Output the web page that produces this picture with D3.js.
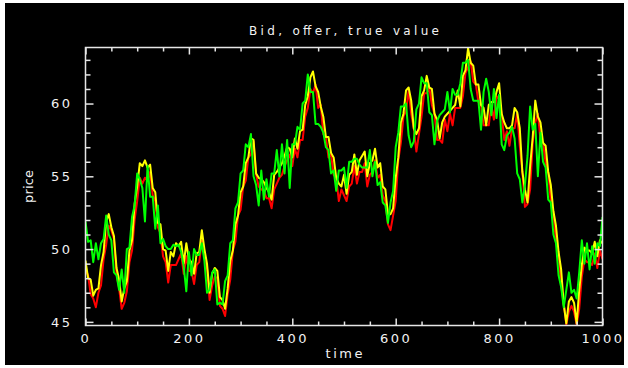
<!DOCTYPE html>
<html>
<head>
<meta charset="utf-8">
<script src="https://cdn.jsdelivr.net/npm/d3@7/dist/d3.min.js"></script>
<style>
  html, body { margin: 0; padding: 0; background: #ffffff; }
  svg { display: block; }
</style>
</head>
<body>
<svg id="chart" width="628" height="368"></svg>
<script>
// Labels
const chartTitle = "Bid, offer, true value";
const xLabel = "time";
const yLabel = "price";

// Tick values
const xMajorTicks = [0, 200, 400, 600, 800, 1000];
const xMinorTicks = [50, 100, 150, 250, 300, 350, 450, 500, 550, 650, 700, 750, 850, 900, 950];
const yMajorTicks = [45, 50, 55, 60];
const yMinorTicks = [46, 47, 48, 49, 51, 52, 53, 54, 56, 57, 58, 59, 61, 62, 63];

// Samples are taken every 5 time units, from t = 0 to t = 1000
const sampleStep = 5;

// Offer price
const offer = [
  49.2, 48.0, 47.9, 46.8, 47.2, 47.3, 48.9, 49.8, 51.9, 52.4,
  51.5, 50.9, 48.7, 47.9, 46.4, 47.3, 47.8, 49.9, 50.6, 53.1,
  54.3, 55.9, 55.7, 56.1, 55.6, 55.8, 54.2, 53.9, 51.8, 51.7,
  50.0, 49.9, 48.5, 49.8, 49.5, 50.4, 50.2, 50.5, 49.0, 50.4,
  49.3, 49.1, 48.3, 49.7, 49.8, 51.3, 50.0, 49.0, 47.0, 48.3,
  48.7, 48.5, 46.7, 46.5, 45.9, 47.3, 49.2, 49.9, 51.7, 52.3,
  53.9, 54.3, 55.9, 56.3, 57.6, 57.5, 55.2, 54.9, 54.8, 54.6,
  54.2, 53.9, 53.4, 55.1, 55.3, 55.6, 55.9, 56.4, 57.0, 56.9,
  56.3, 57.6, 56.9, 58.1, 58.2, 59.9, 60.5, 61.8, 62.2, 61.2,
  60.8, 59.8, 59.1, 57.7, 57.7, 56.6, 56.3, 54.9, 54.5, 54.3,
  55.1, 53.8, 55.1, 55.3, 56.5, 55.1, 56.1, 56.4, 56.7, 55.0,
  55.9, 56.1, 56.9, 55.6, 55.9, 54.3, 54.1, 52.4, 52.4, 52.8,
  54.9, 56.3, 58.7, 59.3, 60.9, 61.1, 60.2, 58.3, 57.9, 58.3,
  60.5, 60.9, 61.9, 61.1, 61.0, 59.3, 58.9, 57.6, 58.7, 59.1,
  59.3, 59.5, 59.7, 59.9, 60.9, 59.8, 61.9, 62.3, 63.8, 62.8,
  62.6, 61.3, 61.3, 59.9, 59.7, 58.5, 59.9, 60.1, 60.1, 60.8,
  61.4, 59.3, 58.7, 58.3, 58.3, 58.5, 59.7, 59.4, 58.3, 55.3,
  54.1, 53.2, 55.7, 57.7, 60.2, 59.1, 58.7, 57.3, 57.1, 55.3,
  54.4, 52.6, 51.6, 49.8, 48.6, 46.2, 44.9, 46.4, 46.7, 46.3,
  44.9, 47.2, 48.9, 50.1, 49.9, 49.9, 49.7, 50.5, 49.5, 50.6,
  50.4
];

// Bid price
const bid = [
  48.6, 48.2, 46.9, 46.6, 46.0, 47.0, 47.5, 49.3, 50.3, 51.6,
  51.3, 50.7, 48.3, 47.3, 45.9, 46.3, 47.1, 49.1, 49.9, 52.0,
  53.3, 54.9, 54.5, 54.9, 54.7, 55.3, 53.7, 53.3, 51.5, 51.1,
  49.5, 49.1, 47.7, 48.9, 48.9, 48.9, 49.3, 49.7, 48.3, 49.5,
  48.5, 48.5, 47.6, 48.9, 49.1, 50.6, 49.7, 48.7, 46.5, 47.5,
  48.1, 48.0, 46.1, 45.9, 45.4, 46.9, 47.9, 49.9, 50.5, 52.3,
  52.7, 54.3, 54.7, 56.3, 56.5, 57.4, 55.1, 54.3, 54.1, 54.0,
  53.5, 53.5, 52.8, 54.1, 54.5, 54.9, 55.1, 55.7, 56.1, 56.5,
  55.7, 56.9, 56.3, 57.5, 57.5, 59.1, 59.7, 61.0, 60.7, 61.3,
  59.7, 59.9, 57.9, 57.7, 56.3, 56.5, 55.1, 54.9, 53.3, 54.1,
  53.7, 53.3, 54.3, 54.5, 55.7, 54.5, 55.3, 55.3, 55.9, 54.3,
  55.1, 55.3, 56.1, 54.9, 55.1, 53.7, 53.3, 51.7, 51.3, 52.3,
  53.3, 56.1, 57.3, 59.1, 59.5, 60.9, 59.3, 58.3, 56.7, 57.9,
  59.1, 60.7, 60.7, 61.1, 59.9, 59.3, 57.5, 57.5, 57.3, 58.9,
  58.1, 59.3, 58.5, 59.7, 59.7, 59.7, 60.5, 62.1, 62.5, 62.9,
  61.5, 61.3, 60.1, 59.9, 58.5, 58.5, 58.5, 59.9, 58.9, 60.5,
  60.3, 59.3, 57.5, 58.1, 57.1, 58.3, 58.3, 59.3, 57.1, 55.3,
  52.9, 53.1, 54.1, 57.3, 58.7, 59.3, 57.5, 57.3, 55.9, 55.3,
  53.3, 52.5, 50.5, 49.7, 47.5, 46.3, 44.8, 45.7, 46.1, 45.7,
  44.8, 45.9, 48.1, 49.3, 49.1, 49.1, 48.9, 49.7, 48.7, 49.9,
  49.3
];

// True value
const trueValue = [
  51.9, 50.5, 50.6, 49.1, 50.4, 49.3, 50.4, 50.7, 52.3, 51.0,
  50.6, 48.4, 48.2, 47.2, 48.6, 47.0, 50.0, 50.1, 52.2, 53.0,
  55.2, 54.8, 54.2, 51.9, 55.7, 53.6, 53.6, 51.4, 53.0, 50.4,
  50.7, 50.2, 50.0, 50.0, 50.3, 50.2, 50.3, 49.8, 48.8, 47.1,
  49.8, 48.2, 50.0, 49.6, 49.6, 50.4, 49.2, 47.0, 47.2, 48.4,
  48.6, 46.2, 46.3, 46.2, 47.8, 48.2, 50.4, 50.6, 52.8, 53.2,
  55.2, 55.4, 57.2, 57.0, 57.9, 55.0, 54.4, 53.0, 55.4, 53.4,
  54.8, 53.6, 55.2, 55.2, 56.8, 55.0, 57.2, 55.2, 57.5, 54.2,
  57.2, 57.2, 58.4, 58.2, 60.0, 60.2, 62.0, 60.8, 60.8, 58.6,
  58.6, 58.4, 58.0, 57.0, 56.8, 55.2, 55.4, 54.0, 55.4, 55.4,
  55.6, 54.2, 56.0, 56.0, 56.2, 56.2, 55.8, 55.6, 55.6, 55.6,
  56.8, 55.0, 56.0, 54.4, 54.6, 53.2, 53.0, 51.8, 53.2, 54.0,
  57.0, 58.0, 59.8, 59.8, 60.0, 57.8, 57.0, 57.4, 59.6, 60.0,
  61.8, 61.4, 61.4, 59.4, 59.2, 57.2, 58.8, 59.2, 59.4, 59.6,
  60.8, 59.4, 61.0, 60.6, 60.6, 61.4, 62.8, 62.8, 63.0, 61.0,
  60.2, 60.2, 60.2, 58.2, 60.8, 61.7, 60.8, 59.2, 61.0, 59.0,
  60.6, 57.2, 56.8, 57.8, 58.0, 58.4, 57.6, 55.2, 54.8, 53.2,
  54.4, 56.4, 59.8, 58.2, 58.6, 55.0, 58.0, 56.0, 55.6, 53.4,
  53.2, 51.0, 50.4, 48.2, 47.4, 46.0, 47.2, 48.4, 47.0, 47.2,
  46.6, 48.4, 50.6, 49.0, 50.4, 48.6, 50.2, 49.0, 50.4, 50.2,
  52.2
];

const svg = d3.select("#chart");

// Black canvas with a thin light margin round it
svg.append("rect")
  .attr("x", 5).attr("y", 3)
  .attr("width", 619).attr("height", 362)
  .attr("fill", "#000000");

const plot = { left: 85.5, right: 602.5, top: 47.5, bottom: 325.5 };

const x = d3.scaleLinear().domain([0, 1000]).range([plot.left, plot.right]);
const y = d3.scaleLinear().domain([44.75, 63.85]).range([plot.bottom, plot.top]);

const axisColor = "#e6e6e6";
const textStyle = (sel, size) => sel
  .attr("fill", "#f2f2f2")
  .attr("font-family", "'DejaVu Sans', sans-serif")
  .attr("font-size", size || 12);

// Series: bid first, offer over it, true value on top
const series = [
  { values: bid, color: "#ff0000" },
  { values: offer, color: "#ffff00" },
  { values: trueValue, color: "#00ff00" }
];

const line = d3.line()
  .x((d, i) => x(i * sampleStep))
  .y(d => y(d));

svg.append("defs").append("clipPath").attr("id", "plot-clip")
  .append("rect")
  .attr("x", plot.left).attr("y", plot.top - 2)
  .attr("width", plot.right - plot.left).attr("height", plot.bottom - plot.top + 2);

svg.append("g").attr("clip-path", "url(#plot-clip)")
  .selectAll("path")
  .data(series)
  .join("path")
  .attr("d", d => line(d.values))
  .attr("fill", "none")
  .attr("stroke", d => d.color)
  .attr("stroke-width", 2)
  .attr("stroke-linejoin", "round");

// Axes with inward ticks on all four sides
function styleAxis(g) {
  g.select(".domain").remove();
  g.selectAll(".tick line").attr("stroke", axisColor).attr("stroke-width", 1.5);
  g.selectAll(".tick text").call(textStyle, 13).attr("letter-spacing", 2.5);
}

svg.append("g")
  .attr("transform", `translate(0,${plot.bottom})`)
  .call(d3.axisBottom(x).tickValues(xMajorTicks).tickSize(-7).tickPadding(8).tickFormat(d3.format("d")))
  .call(styleAxis);
svg.append("g")
  .attr("transform", `translate(0,${plot.bottom})`)
  .call(d3.axisBottom(x).tickValues(xMinorTicks).tickSize(-4).tickFormat(""))
  .call(styleAxis);
svg.append("g")
  .attr("transform", `translate(0,${plot.top})`)
  .call(d3.axisTop(x).tickValues(xMajorTicks).tickSize(-7).tickFormat(""))
  .call(styleAxis);
svg.append("g")
  .attr("transform", `translate(0,${plot.top})`)
  .call(d3.axisTop(x).tickValues(xMinorTicks).tickSize(-4).tickFormat(""))
  .call(styleAxis);

svg.append("g")
  .attr("transform", `translate(${plot.left},0)`)
  .call(d3.axisLeft(y).tickValues(yMajorTicks).tickSize(-8).tickPadding(13).tickFormat(d3.format("d")))
  .call(styleAxis);
svg.append("g")
  .attr("transform", `translate(${plot.left},0)`)
  .call(d3.axisLeft(y).tickValues(yMinorTicks).tickSize(-5).tickFormat(""))
  .call(styleAxis);
svg.append("g")
  .attr("transform", `translate(${plot.right},0)`)
  .call(d3.axisRight(y).tickValues(yMajorTicks).tickSize(-8).tickFormat(""))
  .call(styleAxis);
svg.append("g")
  .attr("transform", `translate(${plot.right},0)`)
  .call(d3.axisRight(y).tickValues(yMinorTicks).tickSize(-5).tickFormat(""))
  .call(styleAxis);

// Frame
svg.append("rect")
  .attr("x", plot.left).attr("y", plot.top)
  .attr("width", plot.right - plot.left).attr("height", plot.bottom - plot.top)
  .attr("fill", "none")
  .attr("stroke", axisColor)
  .attr("stroke-width", 1.5);

// Title and axis labels
svg.append("text")
  .attr("x", (plot.left + plot.right) / 2).attr("y", 35)
  .attr("text-anchor", "middle")
  .attr("textLength", 190).attr("lengthAdjust", "spacing")
  .call(textStyle, 12)
  .text(chartTitle);

svg.append("text")
  .attr("x", (plot.left + plot.right) / 2).attr("y", 358)
  .attr("text-anchor", "middle")
  .attr("textLength", 37).attr("lengthAdjust", "spacing")
  .call(textStyle, 13)
  .text(xLabel);

svg.append("text")
  .attr("transform", `translate(33,${(plot.top + plot.bottom) / 2}) rotate(-90)`)
  .attr("text-anchor", "middle")
  .attr("textLength", 33).attr("lengthAdjust", "spacing")
  .call(textStyle, 13)
  .text(yLabel);
</script>
</body>
</html>
